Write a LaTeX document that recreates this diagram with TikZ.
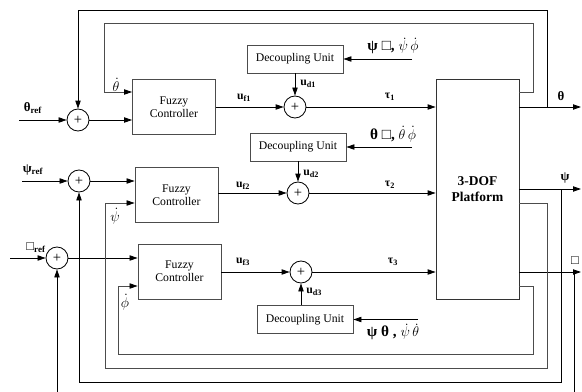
\documentclass[tikz,border=0pt]{standalone}
\usepackage{fontspec}
\setmainfont{Liberation Serif}
\usetikzlibrary{arrows.meta, positioning, calc}

\begin{document}
\begin{tikzpicture}[
    x=0.03cm, y=-0.03cm, font=\fontsize{10}{11}\selectfont,
    fzbox/.style={rectangle, draw=black!70, line width=0.7pt, align=center,
                  minimum width=2.49cm, minimum height=1.65cm},
    dbox/.style={rectangle, draw=black!70, line width=0.7pt, align=center,
                 minimum width=2.88cm, minimum height=0.84cm},
    pbox/.style={rectangle, draw=black!80, line width=0.7pt, align=center,
                 minimum width=2.49cm, minimum height=6.6cm,
                 font=\fontsize{11.5}{13}\selectfont\bfseries},
    sumc/.style={circle, draw, line width=0.7pt, minimum size=0.66cm,
                 inner sep=0pt, font=\fontsize{12.5}{12.5}\selectfont},
    a/.style={-{Triangle[length=2.4mm, width=1.6mm, black]}, line width=0.7pt},
    fb/.style={line width=0.7pt, draw=black!70},
    lbl/.style={font=\fontsize{10}{11}\selectfont\bfseries, inner sep=1pt},
    glbl/.style={font=\fontsize{13}{14}\selectfont, inner sep=1pt}
]
\useasboundingbox (0,0) rectangle (582,392);

% summing junctions and controllers
\node[sumc] (s1) at (78,120) {+};
\node[sumc] (s2) at (79,181) {+};
\node[sumc] (s3) at (57,258) {+};
\node[fzbox] (fc1) at (174,107)   {Fuzzy\\Controller};
\node[fzbox] (fc2) at (176.5,195) {Fuzzy\\Controller};
\node[fzbox] (fc3) at (179.5,271.5) {Fuzzy\\Controller};

\node[sumc] (su1) at (295,107) {+};
\node[sumc] (su2) at (298,193) {+};
\node[sumc] (su3) at (301,272) {+};
\node[dbox] (du1) at (295,59)    {Decoupling Unit};
\node[dbox] (du2) at (298,147)   {Decoupling Unit};
\node[dbox] (du3) at (305,319.5) {Decoupling Unit};

\node[pbox] (plat) at (477.5,189) {3-DOF\\Platform};

% free ends
\coordinate (in1) at (19,120);
\coordinate (in2) at (22,181);
\coordinate (in3) at (10,258);
\coordinate (d1in) at (412,59);
\coordinate (d2in) at (412,147);
\coordinate (d3in) at (418,319.5);
\coordinate (o1) at (581,107);
\coordinate (o2) at (581,189);
\coordinate (o3) at (581,272);
\coordinate (th) at (547,107);
\coordinate (ps) at (561,189);
\coordinate (ph) at (574,272);
\coordinate (thd) at (104,92);
\coordinate (psd) at (105,203);
\coordinate (phd) at (118,286);

% forward paths
\draw[a] (in1) -- (s1);
\draw[a] (in2) -- (s2);
\draw[a] (in3) -- (s3);
\draw[a] (s1) -- (s1 -| fc1.west);
\draw[a] (s2) -- (s2 -| fc2.west);
\draw[a] (s3) -- (s3 -| fc3.west);
\draw[a] (fc1.east |- su1) -- (su1);
\draw[a] (fc2.east |- su2) -- (su2);
\draw[a] (fc3.east |- su3) -- (su3);
\draw[a] (du1) -- (su1);
\draw[a] (du2) -- (su2);
\draw[a] (du3.north -| su3) -- (su3);
\draw[a] (d1in) -- (du1);
\draw[a] (d2in) -- (du2);
\draw[a] (d3in) -- (du3);
\draw[a] (su1) -- (su1 -| plat.west);
\draw[a] (su2) -- (su2 -| plat.west);
\draw[a] (su3) -- (su3 -| plat.west);
\draw[a] (plat.east |- o1) -- (o1);
\draw[a] (plat.east |- o2) -- (o2);
\draw[a] (plat.east |- o3) -- (o3);

% feedback loops
\draw[a] (th) |- (78,10) -- (s1);
\draw[a] (ps) |- (79,382) -- (s2);
\draw[a] (ph) |- (57,395) -- (s3);
\draw[a, fb] (plat.east |- thd) -| (533,23) -| (thd) -- (thd -| fc1.west);
\draw[a, fb] (plat.east |- psd) -| (547,368) -| (psd) -- (psd -| fc2.west);
\draw[a, fb] (plat.east |- phd) -| (533,354) -| (phd) -- (phd -| fc3.west);

% labels
\node[lbl, font=\fontsize{11}{12}\selectfont\bfseries] at (33,108) {θ\textsubscript{ref}};
\node[lbl, font=\fontsize{11}{12}\selectfont\bfseries] at (33,170) {ψ\textsubscript{ref}};
\node[lbl, font=\fontsize{11}{12}\selectfont\bfseries] at (36,248) {{\mdseries □}\textsubscript{ref}};
\node[glbl] at (116,85)  {$\dot{\theta}$};
\node[glbl] at (115,216) {$\dot{\psi}$};
\node[glbl] at (125,302) {$\dot{\phi}$};
\node[lbl] at (244,98)  {u\textsubscript{f1}};
\node[lbl] at (243,186) {u\textsubscript{f2}};
\node[lbl] at (243,262) {u\textsubscript{f3}};
\node[lbl, anchor=west] at (299,84)  {u\textsubscript{d1}};
\node[lbl, anchor=west] at (302,174) {u\textsubscript{d2}};
\node[lbl, anchor=west] at (305,292) {u\textsubscript{d3}};
\node[lbl] at (390,97)  {τ\textsubscript{1}};
\node[lbl] at (390,185) {τ\textsubscript{2}};
\node[lbl] at (393,262) {τ\textsubscript{3}};
\node[glbl] at (393,46)  {\textbf{ψ □,} $\dot{\psi}\,\dot{\phi}$};
\node[glbl] at (393,134) {\textbf{θ □,} $\dot{\theta}\,\dot{\phi}$};
\node[glbl] at (393,332) {\textbf{ψ θ ,} $\dot{\psi}\,\dot{\theta}$};
\node[lbl, font=\fontsize{11}{12}\selectfont\bfseries] at (561,96)  {θ};
\node[lbl, font=\fontsize{11}{12}\selectfont\bfseries] at (565,178) {ψ};
\node[lbl, font=\fontsize{11}{12}\selectfont] at (575,261) {□};
\end{tikzpicture}
\end{document}
